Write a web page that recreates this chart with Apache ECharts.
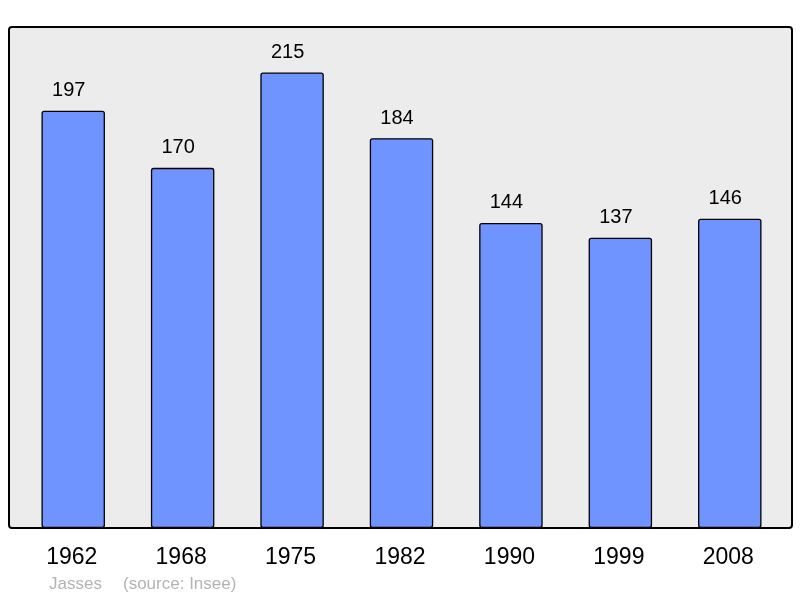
<!DOCTYPE html>
<html>
<head>
<meta charset="utf-8">
<script src="https://cdn.jsdelivr.net/npm/echarts@6/dist/echarts.min.js"></script>
<style>
    html, body { margin: 0; padding: 0; background: #ffffff; }
    #chart { width: 800px; height: 598px; }
</style>
</head>
<body>
<div id="chart"></div>
<script>
    // population par année de recensement
    const years = ['1962', '1968', '1975', '1982', '1990', '1999', '2008'];
    const population = [197, 170, 215, 184, 144, 137, 146];
    const yMax = 236.5;

    const chart = echarts.init(document.getElementById('chart'));

    const option = {
        animation: false,
        backgroundColor: '#ffffff',
        textStyle: { fontFamily: 'Liberation Sans, Arial, sans-serif' },
        graphic: [
            {
                type: 'rect',
                z: -1,
                shape: { x: 9, y: 27, width: 783, height: 501, r: 3 },
                style: { fill: '#ececec', stroke: '#000000', lineWidth: 2 }
            },
            {
                type: 'text',
                left: 49,
                top: 576,
                style: {
                    text: 'Jasses',
                    fill: '#b3b3b3',
                    font: '17px "Liberation Sans", Arial, sans-serif'
                }
            },
            {
                type: 'text',
                left: 123,
                top: 576,
                style: {
                    text: '(source: Insee)',
                    fill: '#b3b3b3',
                    font: '17px "Liberation Sans", Arial, sans-serif'
                }
            }
        ],
        grid: {
            left: 18.5,
            right: 15.5,
            top: 27,
            bottom: 70
        },
        xAxis: {
            type: 'category',
            data: years,
            axisLine: { show: false },
            axisTick: { show: false },
            axisLabel: {
                color: '#000000',
                fontSize: 23,
                margin: 18,
                padding: [0, 3, 0, 0]
            }
        },
        yAxis: {
            type: 'value',
            min: 0,
            max: yMax,
            show: false,
            splitLine: { show: false }
        },
        series: [
            {
                type: 'bar',
                data: population,
                barWidth: '58%',
                itemStyle: {
                    color: '#7094ff',
                    borderColor: '#000000',
                    borderWidth: 1.3,
                    borderRadius: 2
                },
                label: {
                    show: true,
                    position: 'top',
                    distance: 10,
                    offset: [-4.5, 0],
                    color: '#000000',
                    fontSize: 20
                }
            }
        ]
    };

    chart.setOption(option);
</script>
</body>
</html>
